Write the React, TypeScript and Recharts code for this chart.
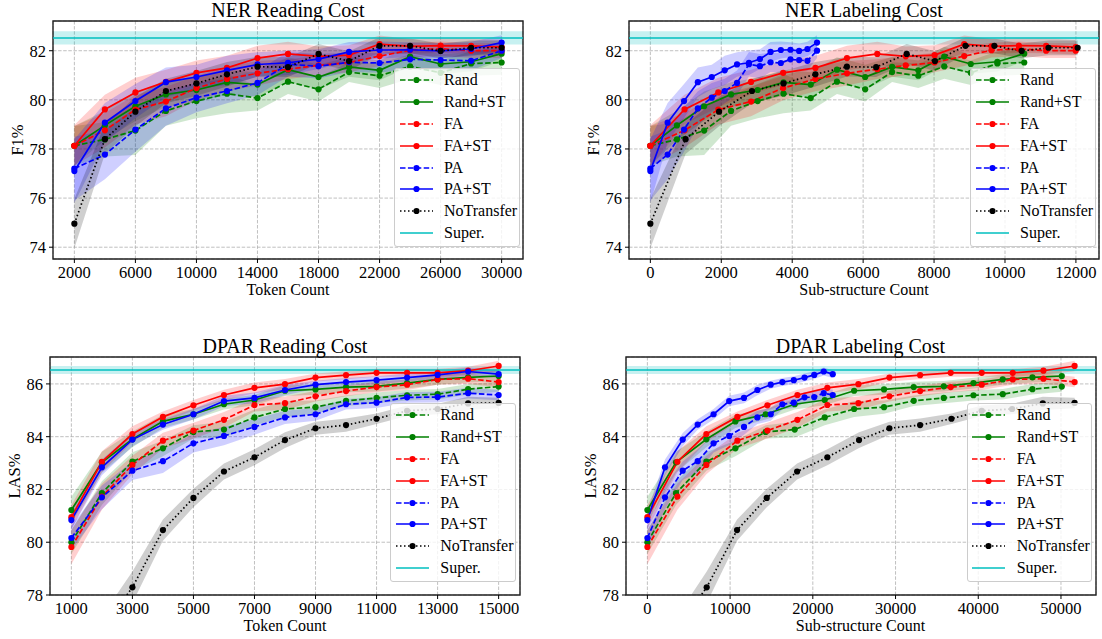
import React from "react";
import {
  ComposedChart,
  Line,
  Area,
  XAxis,
  YAxis,
  CartesianGrid,
  ReferenceArea,
  ReferenceLine,
} from "recharts";

// ---------- NER ----------
// reading cost (token count), same for all series
const nerTokens = [2000, 4000, 6000, 8000, 10000, 12000, 14000, 16000, 18000, 20000, 22000, 24000, 26000, 28000, 30000];
// labeling cost (sub-structure count) per strategy
const nerSubRand = [0, 750, 1517, 2275, 3025, 3755, 4522, 5262, 6058, 6817, 7556, 8287, 9035, 9785, 10543];
const nerSubFA = [0, 964, 1915, 2840, 3745, 4655, 5545, 6400, 7200, 8015, 8850, 9620, 10390, 11160, 11995];
const nerSubPA = [0, 487, 950, 1339, 1732, 2097, 2444, 2781, 3090, 3390, 3680, 3951, 4195, 4429, 4700];
const nerSubNoTransfer = [0, 993, 1938, 2865, 3755, 4654, 5542, 6367, 7228, 8025, 8886, 9700, 10469, 11227, 12049];

const nerRand = [78.13, 78.39, 78.75, 79.55, 79.95, 80.25, 80.07, 80.74, 80.43, 81.13, 80.98, 81.36, 81.1, 81.48, 81.52];
const nerRandST = [78.13, 78.96, 79.74, 80.22, 80.4, 80.71, 80.62, 81.23, 80.93, 81.34, 81.2, 81.76, 81.46, 81.55, 81.88];
const nerFA = [78.13, 78.76, 79.6, 79.93, 80.48, 80.85, 81.08, 81.25, 81.4, 81.52, 81.78, 82.02, 82.08, 82.0, 82.0];
const nerFAST = [78.13, 79.61, 80.3, 80.73, 81.1, 81.3, 81.7, 81.87, 81.77, 81.82, 82.27, 82.18, 82.21, 82.2, 82.15];
const nerPA = [77.2, 77.77, 78.79, 79.65, 80.09, 80.36, 80.69, 81.45, 81.37, 81.53, 81.5, 81.65, 81.62, 81.59, 82.0];
const nerPAST = [77.1, 79.07, 79.95, 80.72, 80.93, 81.2, 81.44, 81.51, 81.66, 81.95, 82.03, 82.04, 81.99, 82.07, 82.33];
const nerNoTransfer = [74.96, 78.4, 79.52, 80.36, 80.67, 81.04, 81.35, 81.33, 81.87, 81.58, 82.2, 82.2, 81.99, 82.12, 82.12];

// half width of the shaded bands
const nerRandSd = [0.8, 0.7, 1.0, 0.6, 0.7, 0.8, 0.5, 0.5, 0.5, 0.4, 0.5, 0.5, 0.5, 0.5, 0.5];
const nerRandSTSd = [0.8, 0.6, 0.6, 0.5, 0.5, 0.5, 0.5, 0.5, 0.5, 0.4, 0.4, 0.4, 0.4, 0.4, 0.3];
const nerFASd = [0.8, 0.7, 0.6, 0.6, 0.5, 0.5, 0.5, 0.4, 0.4, 0.4, 0.4, 0.3, 0.3, 0.3, 0.3];
const nerFASTSd = [0.85, 0.6, 0.6, 0.5, 0.5, 0.5, 0.5, 0.5, 0.4, 0.4, 0.35, 0.3, 0.3, 0.3, 0.3];
const nerPASd = [1.3, 1.0, 0.9, 0.7, 0.6, 0.5, 0.5, 0.5, 0.5, 0.4, 0.4, 0.4, 0.4, 0.4, 0.3];
const nerPASTSd = [1.3, 0.8, 0.7, 0.6, 0.5, 0.6, 0.5, 0.5, 0.4, 0.4, 0.35, 0.3, 0.3, 0.3, 0.3];
const nerNoTransferSd = [1.0, 0.6, 0.6, 0.5, 0.5, 0.5, 0.4, 0.4, 0.4, 0.4, 0.35, 0.3, 0.3, 0.3, 0.3];

const nerSuper = 82.52;
const nerSuperSd = 0.27;

// ---------- DPAR ----------
const dparTokens = [1000, 2000, 3000, 4000, 5000, 6000, 7000, 8000, 9000, 10000, 11000, 12000, 13000, 14000, 15000];
const dparSubRand = [0, 3460, 7130, 10640, 14300, 17810, 21440, 24990, 28610, 32200, 35830, 39420, 42960, 46550, 50100];
const dparSubFA = [0, 3630, 7130, 10880, 14510, 18140, 21760, 25510, 29260, 32970, 36670, 40420, 44170, 47880, 51650];
const dparSubPA = [0, 2130, 4270, 6080, 8000, 9890, 11680, 13300, 14910, 16320, 17700, 19000, 20170, 21320, 22410];
const dparSubNoTransfer = [0, 3600, 7170, 10840, 14430, 18100, 21760, 25590, 29260, 32970, 36760, 40420, 44090, 47800, 51650];

const dparRand = [80.0, 81.86, 83.06, 83.56, 84.18, 84.27, 84.73, 85.05, 85.12, 85.36, 85.47, 85.57, 85.61, 85.8, 85.9];
const dparRandST = [81.22, 83.03, 83.9, 84.58, 84.85, 85.23, 85.39, 85.74, 85.79, 85.88, 85.91, 86.03, 86.17, 86.25, 86.3];
const dparFA = [79.82, 81.73, 82.93, 83.85, 84.23, 84.64, 85.2, 85.27, 85.53, 85.73, 85.88, 85.97, 86.17, 86.2, 86.07];
const dparFAST = [80.95, 83.05, 84.1, 84.75, 85.19, 85.58, 85.85, 85.99, 86.24, 86.33, 86.42, 86.42, 86.42, 86.5, 86.68];
const dparPA = [80.16, 81.7, 82.71, 83.07, 83.75, 84.03, 84.37, 84.73, 84.85, 85.23, 85.29, 85.49, 85.5, 85.65, 85.58];
const dparPAST = [80.84, 82.84, 83.89, 84.46, 84.85, 85.35, 85.47, 85.77, 85.97, 86.07, 86.14, 86.24, 86.34, 86.47, 86.37];
const dparNoTransfer = [74.0, 76.7, 78.29, 80.46, 81.68, 82.68, 83.22, 83.87, 84.32, 84.44, 84.68, 84.98, 85.05, 85.26, 85.28];

const dparRandSd = [0.45, 0.45, 0.35, 0.3, 0.25, 0.3, 0.3, 0.3, 0.25, 0.2, 0.2, 0.2, 0.2, 0.2, 0.2];
const dparRandSTSd = [0.5, 0.4, 0.3, 0.25, 0.2, 0.2, 0.2, 0.2, 0.2, 0.2, 0.2, 0.2, 0.2, 0.2, 0.2];
const dparFASd = [0.65, 0.5, 0.35, 0.3, 0.3, 0.3, 0.25, 0.25, 0.2, 0.2, 0.2, 0.2, 0.2, 0.2, 0.2];
const dparFASTSd = [0.45, 0.4, 0.3, 0.2, 0.2, 0.2, 0.2, 0.2, 0.15, 0.15, 0.15, 0.15, 0.15, 0.15, 0.2];
const dparPASd = [0.45, 0.45, 0.35, 0.45, 0.35, 0.35, 0.3, 0.25, 0.25, 0.2, 0.2, 0.2, 0.2, 0.2, 0.2];
const dparPASTSd = [0.35, 0.3, 0.25, 0.2, 0.2, 0.2, 0.2, 0.2, 0.15, 0.15, 0.15, 0.15, 0.15, 0.15, 0.15];
const dparNoTransferSd = [0.5, 0.5, 0.6, 0.4, 0.35, 0.3, 0.3, 0.3, 0.25, 0.25, 0.2, 0.2, 0.2, 0.25, 0.2];

const dparSuper = 86.53;
const dparSuperSd = 0.15;

// ticks
const nerReadTicks = [2000, 6000, 10000, 14000, 18000, 22000, 26000, 30000];
const nerLabTicks = [0, 2000, 4000, 6000, 8000, 10000, 12000];
const nerYTicks = [74, 76, 78, 80, 82];
const dparReadTicks = [1000, 3000, 5000, 7000, 9000, 11000, 13000, 15000];
const dparLabTicks = [0, 10000, 20000, 30000, 40000, 50000];
const dparYTicks = [78, 80, 82, 84, 86];

const seriesNames = ["Rand", "Rand+ST", "FA", "FA+ST", "PA", "PA+ST", "NoTransfer"];

const FONT = "'Liberation Serif', 'Times New Roman', 'DejaVu Serif', serif";
const DASHED = "5.5 2.4";
const DOTTED = "1.5 2.5";
const CYAN = "#00bfbf";

const styles: Record<string, { color: string; dash?: string }> = {
  Rand: { color: "#008000", dash: DASHED },
  "Rand+ST": { color: "#008000" },
  FA: { color: "#ff0000", dash: DASHED },
  "FA+ST": { color: "#ff0000" },
  PA: { color: "#0000ff", dash: DASHED },
  "PA+ST": { color: "#0000ff" },
  NoTransfer: { color: "#000000", dash: DOTTED },
};

interface Pt {
  x: number;
  y: number;
  band: [number, number];
}

interface Series {
  name: string;
  data: Pt[];
}

const makeSeries = (name: string, xs: number[], ys: number[], sd: number[]): Series => ({
  name,
  data: ys.map((y, i) => ({ x: xs[i], y, band: [y - sd[i], y + sd[i]] })),
});

const nerY = [nerRand, nerRandST, nerFA, nerFAST, nerPA, nerPAST, nerNoTransfer];
const nerSd = [nerRandSd, nerRandSTSd, nerFASd, nerFASTSd, nerPASd, nerPASTSd, nerNoTransferSd];
const nerLabX = [nerSubRand, nerSubRand, nerSubFA, nerSubFA, nerSubPA, nerSubPA, nerSubNoTransfer];

const dparY = [dparRand, dparRandST, dparFA, dparFAST, dparPA, dparPAST, dparNoTransfer];
const dparSd = [dparRandSd, dparRandSTSd, dparFASd, dparFASTSd, dparPASd, dparPASTSd, dparNoTransferSd];
const dparLabX = [dparSubRand, dparSubRand, dparSubFA, dparSubFA, dparSubPA, dparSubPA, dparSubNoTransfer];

const nerReadSeries = seriesNames.map((n, i) => makeSeries(n, nerTokens, nerY[i], nerSd[i]));
const nerLabSeries = seriesNames.map((n, i) => makeSeries(n, nerLabX[i], nerY[i], nerSd[i]));
const dparReadSeries = seriesNames.map((n, i) => makeSeries(n, dparTokens, dparY[i], dparSd[i]));
const dparLabSeries = seriesNames.map((n, i) => makeSeries(n, dparLabX[i], dparY[i], dparSd[i]));

interface Box {
  left: number;
  top: number;
  width: number;
  height: number;
}

interface PanelProps {
  title: string;
  xLabel: string;
  yLabel: string;
  series: Series[];
  xTicks: number[];
  yTicks: number[];
  xDomain: [number, number];
  yDomain: [number, number];
  superVal: number;
  superSd: number;
  box: Box;
  legend: { left: number; top: number; width: number };
}

const LegendBox = ({ left, top, width }: { left: number; top: number; width: number }) => {
  const rows = [...seriesNames, "Super."];
  return (
    <div
      style={{
        position: "absolute",
        left,
        top,
        width,
        height: 178.4,
        boxSizing: "border-box",
        background: "rgba(255,255,255,0.8)",
        border: "1px solid #cccccc",
        borderRadius: 3,
      }}
    >
      {rows.map((name, i) => {
        const st = name === "Super." ? { color: CYAN } : styles[name];
        const cy = 11.2 + i * 21.8;
        return (
          <div key={name} style={{ position: "absolute", left: 0, top: cy - 10, height: 20, width: "100%" }}>
            <svg width={40} height={20} style={{ position: "absolute", left: 3.5, top: 0 }}>
              <line x1={1} x2={34} y1={10} y2={10} stroke={st.color} strokeWidth={1.7} strokeDasharray={st.dash} />
              {name !== "Super." && <circle cx={17.5} cy={10} r={3.1} fill={st.color} />}
            </svg>
            <span
              style={{
                position: "absolute",
                left: 49,
                top: 0,
                lineHeight: "20px",
                fontSize: 16,
                fontFamily: FONT,
                color: "#000",
                whiteSpace: "nowrap",
              }}
            >
              {name}
            </span>
          </div>
        );
      })}
    </div>
  );
};

const Panel = ({
  title,
  xLabel,
  yLabel,
  series,
  xTicks,
  yTicks,
  xDomain,
  yDomain,
  superVal,
  superSd,
  box,
  legend,
}: PanelProps) => {
  const tickStyle = { fill: "#000", fontSize: 16.5, fontFamily: FONT };
  return (
    <>
      <div style={{ position: "absolute", left: box.left - 50, top: box.top - 10 }}>
        <ComposedChart
          width={box.width + 60}
          height={box.height + 40}
          margin={{ top: 10, right: 10, left: 0, bottom: 0 }}
        >
          <CartesianGrid stroke="#b0b0b0" strokeDasharray="3.5 1.6" strokeWidth={0.8} />
          <XAxis
            type="number"
            dataKey="x"
            domain={xDomain}
            ticks={xTicks}
            interval={0}
            allowDataOverflow
            axisLine={false}
            tickLine={{ stroke: "#000" }}
            tickSize={4}
            tickMargin={3}
            height={30}
            tick={tickStyle}
          />
          <YAxis
            type="number"
            domain={yDomain}
            ticks={yTicks}
            interval={0}
            allowDataOverflow
            axisLine={false}
            tickLine={{ stroke: "#000" }}
            tickSize={4}
            tickMargin={3}
            width={50}
            tick={tickStyle}
          />
          <ReferenceArea
            y1={superVal - superSd}
            y2={superVal + superSd}
            fill={CYAN}
            fillOpacity={0.22}
            stroke="none"
          />
          <ReferenceLine y={superVal} stroke={CYAN} strokeWidth={1.5} />
          {series.map((s) => (
            <Area
              key={`band-${s.name}`}
              data={s.data}
              dataKey="band"
              type="linear"
              stroke="none"
              fill={styles[s.name].color}
              fillOpacity={0.19}
              dot={false}
              activeDot={false}
              isAnimationActive={false}
            />
          ))}
          {series.map((s) => (
            <Line
              key={`line-${s.name}`}
              data={s.data}
              dataKey="y"
              type="linear"
              stroke={styles[s.name].color}
              strokeWidth={1.7}
              strokeDasharray={styles[s.name].dash}
              dot={{ r: 3.1, fill: styles[s.name].color, stroke: "none", strokeWidth: 0 }}
              activeDot={false}
              isAnimationActive={false}
            />
          ))}
          <ReferenceArea
            x1={xDomain[0]}
            x2={xDomain[1]}
            y1={yDomain[0]}
            y2={yDomain[1]}
            fill="none"
            stroke="#222"
            strokeWidth={1.4}
          />
        </ComposedChart>
      </div>
      <div
        style={{
          position: "absolute",
          left: box.left,
          width: box.width,
          top: box.top - 23,
          height: 24,
          lineHeight: "24px",
          textAlign: "center",
          fontSize: 20,
          fontFamily: FONT,
          color: "#000",
        }}
      >
        {title}
      </div>
      <div
        style={{
          position: "absolute",
          left: box.left,
          width: box.width,
          top: box.top + box.height + 21,
          height: 20,
          lineHeight: "20px",
          textAlign: "center",
          fontSize: 16,
          fontFamily: FONT,
          color: "#000",
        }}
      >
        {xLabel}
      </div>
      <div
        style={{
          position: "absolute",
          left: box.left - 35,
          top: box.top + box.height / 2,
          transform: "translate(-50%, -50%) rotate(-90deg)",
          fontSize: 16.5,
          lineHeight: "20px",
          fontFamily: FONT,
          color: "#000",
          whiteSpace: "nowrap",
        }}
      >
        {yLabel}
      </div>
      <LegendBox {...legend} />
    </>
  );
};

export default function App() {
  return (
    <div
      style={{
        position: "absolute",
        left: 0,
        top: 0,
        width: 1102,
        height: 639,
        background: "#fff",
        overflow: "hidden",
      }}
    >
      <Panel
        title="NER Reading Cost"
        xLabel="Token Count"
        yLabel="F1%"
        series={nerReadSeries}
        xTicks={nerReadTicks}
        yTicks={nerYTicks}
        xDomain={[600, 31400]}
        yDomain={[73.52, 83.21]}
        superVal={nerSuper}
        superSd={nerSuperSd}
        box={{ left: 53, top: 20.5, width: 470, height: 238 }}
        legend={{ left: 394, top: 68.3, width: 126 }}
      />
      <Panel
        title="NER Labeling Cost"
        xLabel="Sub-structure Count"
        yLabel="F1%"
        series={nerLabSeries}
        xTicks={nerLabTicks}
        yTicks={nerYTicks}
        xDomain={[-602, 12651]}
        yDomain={[73.52, 83.21]}
        superVal={nerSuper}
        superSd={nerSuperSd}
        box={{ left: 629, top: 20.5, width: 470, height: 238 }}
        legend={{ left: 970, top: 68.3, width: 125.5 }}
      />
      <Panel
        title="DPAR Reading Cost"
        xLabel="Token Count"
        yLabel="LAS%"
        series={dparReadSeries}
        xTicks={dparReadTicks}
        yTicks={dparYTicks}
        xDomain={[300, 15700]}
        yDomain={[78, 87.02]}
        superVal={dparSuper}
        superSd={dparSuperSd}
        box={{ left: 50, top: 356.5, width: 470, height: 238 }}
        legend={{ left: 390.3, top: 403.3, width: 126 }}
      />
      <Panel
        title="DPAR Labeling Cost"
        xLabel="Sub-structure Count"
        yLabel="LAS%"
        series={dparLabSeries}
        xTicks={dparLabTicks}
        yTicks={dparYTicks}
        xDomain={[-2585, 54235]}
        yDomain={[78, 87.02]}
        superVal={dparSuper}
        superSd={dparSuperSd}
        box={{ left: 625.5, top: 356.5, width: 470, height: 238 }}
        legend={{ left: 966.7, top: 403.3, width: 125.5 }}
      />
    </div>
  );
}
